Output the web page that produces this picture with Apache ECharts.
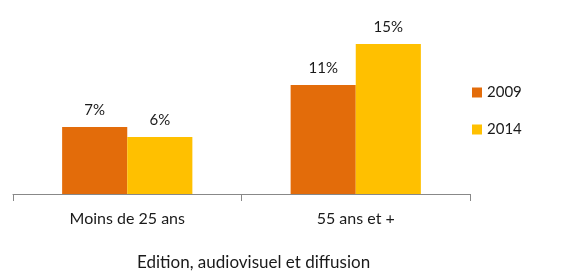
<!DOCTYPE html>
<html>
<head>
<meta charset="utf-8">
<script src="https://cdn.jsdelivr.net/npm/echarts@6/dist/echarts.min.js"></script>
<style>
  html, body { margin: 0; padding: 0; background: #fff; }
  #chart { width: 585px; height: 271px; }
</style>
</head>
<body>
<div id="chart"></div>
<script>
var categories = ['Moins de 25 ans', '55 ans et +'];
var years = ['2009', '2014'];
var values2009 = [6.7, 10.9];
var values2014 = [5.7, 15.0];
var colors = ['#E36C0A', '#FFC000'];
var titleText = 'Edition, audiovisuel et diffusion';

var font = 'Lato, "Open Sans", sans-serif';

var chart = echarts.init(document.getElementById('chart'));

function barSeries(name, data, color) {
  return {
    name: name,
    type: 'bar',
    data: data,
    barGap: '0%',
    barCategoryGap: '43%',
    itemStyle: { color: color },
    label: {
      show: true,
      position: 'top',
      distance: 9,
      color: '#1a1a1a',
      fontFamily: font,
      fontSize: 15,
      formatter: function (p) { return Math.round(p.value) + '%'; }
    }
  };
}

chart.setOption({
  animation: false,
  title: {
    text: titleText,
    left: 137,
    top: 254,
    padding: 0,
    textStyle: { fontFamily: font, fontSize: 17, fontWeight: 'normal', color: '#1a1a1a' }
  },
  legend: {
    orient: 'vertical',
    left: 472,
    top: 85,
    padding: 0,
    itemWidth: 10,
    itemHeight: 10,
    itemGap: 22,
    icon: 'rect',
    data: years,
    textStyle: { fontFamily: font, fontSize: 15, color: '#1a1a1a' }
  },
  grid: { left: 13, right: 115, top: 34, bottom: 77 },
  xAxis: {
    type: 'category',
    data: categories,
    axisLine: { lineStyle: { color: '#888', width: 1 } },
    axisTick: { show: true, length: 7, lineStyle: { color: '#888' } },
    axisLabel: { fontFamily: font, fontSize: 16, color: '#1a1a1a', margin: 17 }
  },
  yAxis: {
    type: 'value',
    min: 0,
    max: 16,
    show: false,
    splitLine: { show: false }
  },
  series: [
    barSeries(years[0], values2009, colors[0]),
    barSeries(years[1], values2014, colors[1])
  ]
});
</script>
</body>
</html>
